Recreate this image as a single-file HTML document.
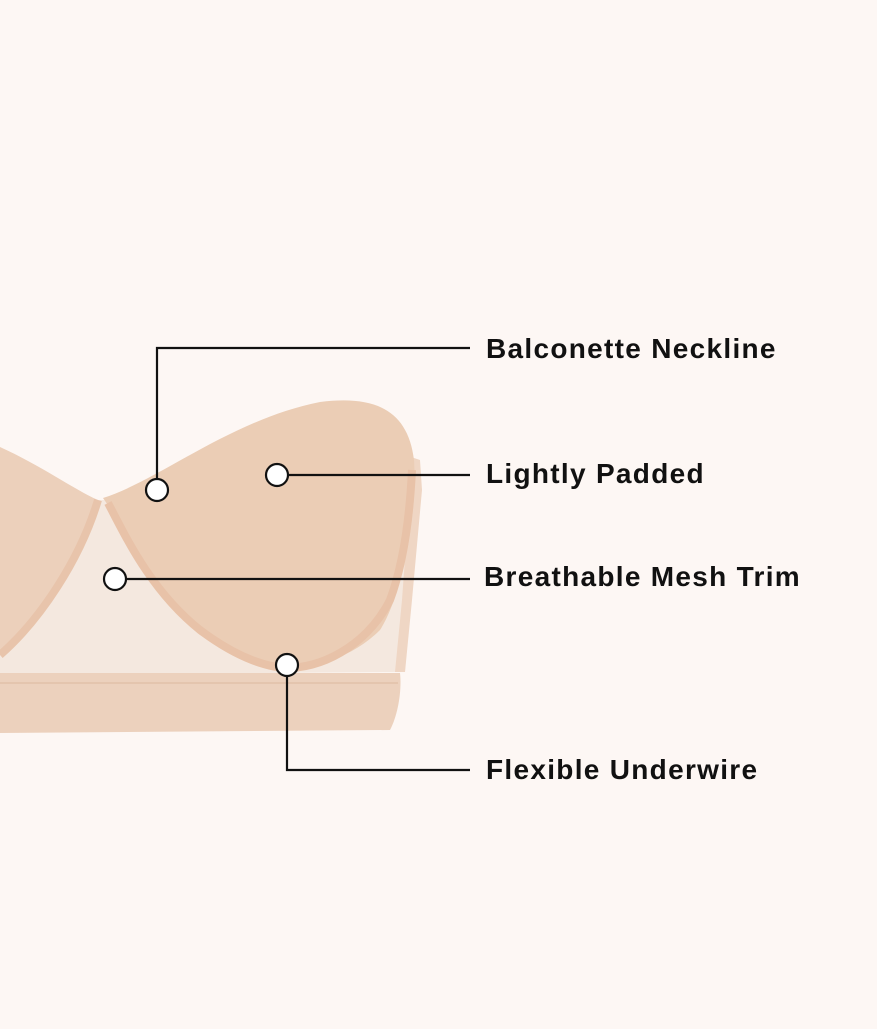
<!DOCTYPE html>
<html><head><style>
html,body{margin:0;padding:0;background:#fdf7f4;}
.t{font-family:"Liberation Sans",sans-serif;font-weight:bold;font-size:28px;fill:#111;letter-spacing:1.3px;}
</style></head><body>
<svg width="877" height="1024" viewBox="0 0 877 1024" xmlns="http://www.w3.org/2000/svg">
<rect width="877" height="1024" fill="#fdf7f4"/>
<path d="M0 620 L95 500 L110 500 L260 560 L410 470 L418 480 L405 672 L0 675 Z" fill="#f4e8df"/>
<path d="M0 447 C40 465 75 490 98 500 C80 560 40 620 0 655 Z" fill="#ecd0bb"/>
<path d="M98 500 C80 560 40 620 0 655" fill="none" stroke="#e8c4ab" stroke-width="8"/>
<path d="M405 455 L420 460 L422 490 L412 600 L405 672 L395 672 L402 600 L410 490 Z" fill="#efd6c4"/>
<path d="M103 498 C160 480 230 420 320 402 C375 395 408 410 414 460 C418 520 400 600 380 630 C350 660 310 668 285 668 C230 665 170 610 140 560 C125 535 115 515 103 498 Z" fill="#ebcdb5"/>
<path d="M108 503 C125 535 150 590 200 630 C240 660 270 668 290 668 C330 666 370 640 390 600 C405 560 410 510 412 470" fill="none" stroke="#e8c2a8" stroke-width="8"/>
<path d="M0 673 L400 673 C402 690 398 715 390 730 L0 733 Z" fill="#ecd1bd"/>
<line x1="0" y1="683" x2="398" y2="683" stroke="#e2c1aa" stroke-width="1.5"/>
<g stroke="#111" stroke-width="2.2" fill="none">
<polyline points="157,479 157,348 470,348"/>
<line x1="288" y1="475" x2="470" y2="475"/>
<line x1="126" y1="579" x2="470" y2="579"/>
<polyline points="287,676 287,770 470,770"/>
</g>
<g fill="#fff" stroke="#111" stroke-width="2.2">
<circle cx="157" cy="490" r="11"/>
<circle cx="277" cy="475" r="11"/>
<circle cx="115" cy="579" r="11"/>
<circle cx="287" cy="665" r="11"/>
</g>
<text class="t" x="486" y="358">Balconette Neckline</text>
<text class="t" x="486" y="483">Lightly Padded</text>
<text class="t" x="484" y="586">Breathable Mesh Trim</text>
<text class="t" x="486" y="779">Flexible Underwire</text>
</svg>
</body></html>
